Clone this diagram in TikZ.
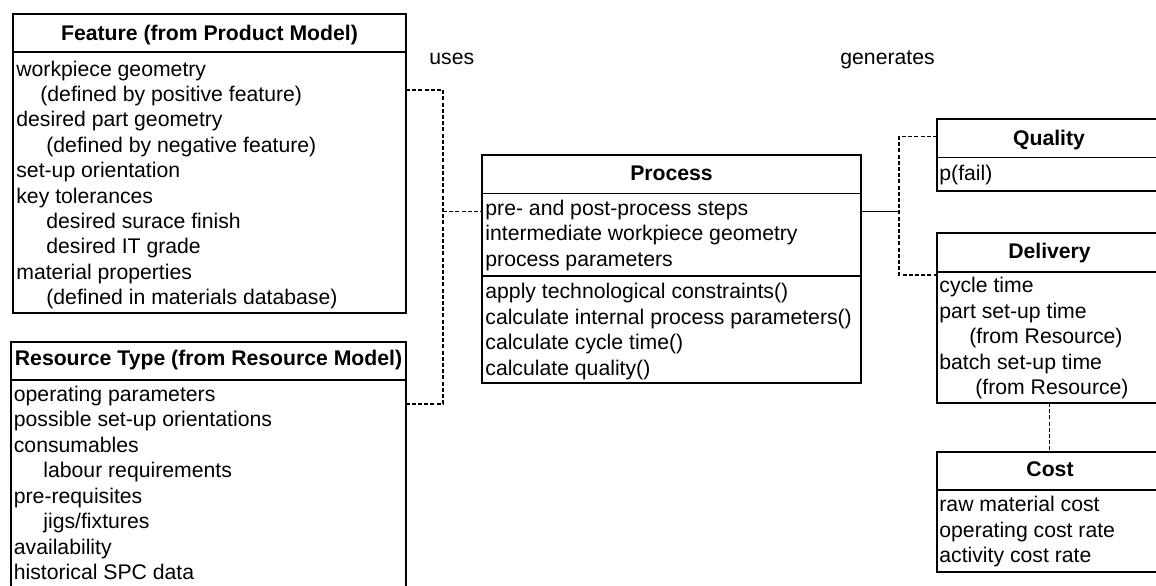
\documentclass[tikz,border=0pt]{standalone}
\usepackage{fontspec}
\setmainfont{Liberation Sans}
\usetikzlibrary{fit}
\tikzset{
  umlbox/.style={draw, line width=0.65pt, inner sep=0pt, outer sep=0pt, rectangle},
  sepline/.style={line width=0.65pt},
  rowtext/.style={anchor=base west, inner sep=0pt, font=\fontsize{10.6}{12}\selectfont},
  headtext/.style={anchor=base, inner sep=0pt, font=\fontsize{10.6}{12}\selectfont\bfseries},
  dashconn/.style={line width=0.6pt, dash pattern=on 2pt off 1.1pt},
  solidconn/.style={line width=0.6pt},
}
\newcommand{\rowtxt}[4]{\node[rowtext] (#1) at (#2,#3) {#4};}
\begin{document}
\begin{tikzpicture}[x=0.5pt,y=-0.5pt]
\useasboundingbox (0,0) rectangle (1156,585);
\clip (0,0) rectangle (1156,585);
% ---------- Feature
\node[umlbox, fit={(13,14) (406,313)}] (feature) {};
\draw[sepline] (13,52) -- (406,52);
\node[headtext] (featureH) at (209.5,40.5) {Feature (from Product Model)};
\rowtxt{f1}{16}{76}{workpiece geometry}
\rowtxt{f2}{40}{101.4}{(defined by positive feature)}
\rowtxt{f3}{16}{126.8}{desired part geometry}
\rowtxt{f4}{46}{152.2}{(defined by negative feature)}
\rowtxt{f5}{16}{177.6}{set-up orientation}
\rowtxt{f6}{16}{203}{key tolerances}
\rowtxt{f7}{46}{228.4}{desired surace finish}
\rowtxt{f8}{46}{253.8}{desired IT grade}
\rowtxt{f9}{16}{279.2}{material properties}
\rowtxt{f10}{46}{304.6}{(defined in materials database)}
% ---------- Resource
\node[umlbox, fit={(11,342) (406,600)}] (resource) {};
\draw[sepline] (11,380) -- (406,380);
\node[headtext] (resourceH) at (208.5,365) {Resource Type (from Resource Model)};
\rowtxt{r1}{13.5}{401}{operating parameters}
\rowtxt{r2}{13.5}{426.5}{possible set-up orientations}
\rowtxt{r3}{13.5}{452}{consumables}
\rowtxt{r4}{43}{477.5}{labour requirements}
\rowtxt{r5}{13.5}{503}{pre-requisites}
\rowtxt{r6}{43}{528.5}{jigs/fixtures}
\rowtxt{r7}{13.5}{554}{availability}
\rowtxt{r8}{13.5}{579.5}{historical SPC data}
% ---------- Process
\node[umlbox, fit={(482,155) (861,383)}] (process) {};
\draw[sepline] (482,193.3) -- (861,193.3);
\draw[sepline] (482,276) -- (861,276);
\node[headtext] (processH) at (671.5,180) {Process};
\rowtxt{p1}{485}{215}{pre- and post-process steps}
\rowtxt{p2}{485}{240.5}{intermediate workpiece geometry}
\rowtxt{p3}{485}{266}{process parameters}
\rowtxt{p4}{485}{298.5}{apply technological constraints()}
\rowtxt{p5}{485}{324}{calculate internal process parameters()}
\rowtxt{p6}{485}{349.5}{calculate cycle time()}
\rowtxt{p7}{485}{375}{calculate quality()}
% ---------- Quality
\node[umlbox, fit={(937,119) (1162,191)}] (quality) {};
\draw[sepline] (937,157.7) -- (1162,157.7);
\node[headtext] (qualityH) at (1049,145) {Quality};
\rowtxt{q1}{939}{180}{p(fail)}
% ---------- Delivery
\node[umlbox, fit={(937,233) (1162,403)}] (delivery) {};
\draw[sepline] (937,272) -- (1162,272);
\node[headtext] (deliveryH) at (1049.5,258) {Delivery};
\rowtxt{d1}{939}{292.7}{cycle time}
\rowtxt{d2}{939}{318}{part set-up time}
\rowtxt{d3}{969}{343.5}{(from Resource)}
\rowtxt{d4}{939}{369}{batch set-up time}
\rowtxt{d5}{975}{394.5}{(from Resource)}
% ---------- Cost
\node[umlbox, fit={(937,452) (1162,572)}] (cost) {};
\draw[sepline] (937,490) -- (1162,490);
\node[headtext] (costH) at (1050,476.7) {Cost};
\rowtxt{c1}{939}{511.7}{raw material cost}
\rowtxt{c2}{939}{537}{operating cost rate}
\rowtxt{c3}{939}{562}{activity cost rate}
% ---------- labels
\rowtxt{uses}{429}{64}{uses}
\rowtxt{gen}{840}{64}{generates}
% ---------- connectors
\coordinate (uTop) at (443,90);
\coordinate (uMid) at (443,211.7);
\coordinate (uBot) at (443,404);
\draw[dashconn] (feature.east |- uTop) -- (uTop) -- (uBot) -- (resource.east |- uBot);
\draw[dashconn] (uMid) -- (process.west |- uMid);
\coordinate (gMid) at (899,211.7);
\coordinate (gTop) at (899,136.7);
\coordinate (gBot) at (899,275);
\draw[solidconn] (process.east |- gMid) -- (gMid);
\draw[dashconn] (quality.west |- gTop) -- (gTop) -- (gBot) -- (delivery.west |- gBot);
\draw[dashconn] (delivery.south) -- (cost.north);
\end{tikzpicture}
\end{document}
